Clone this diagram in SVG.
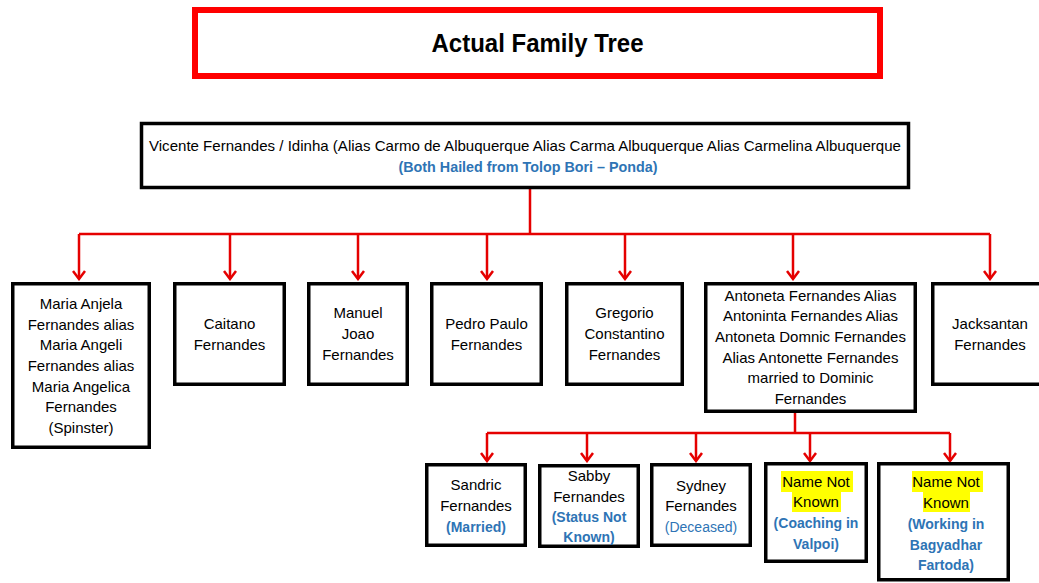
<svg xmlns="http://www.w3.org/2000/svg" width="1039" height="583" viewBox="0 0 1039 583">
<style>
.box{fill:#fff;stroke:#000;stroke-width:3.5}
.t{font-family:"Liberation Sans",Arial,sans-serif;font-size:15px;fill:#000;text-anchor:middle}
.b{font-family:"Liberation Sans",Arial,sans-serif;font-size:14px;font-weight:bold;fill:#2E74B5;text-anchor:middle}
.bl{font-family:"Liberation Sans",Arial,sans-serif;font-size:14px;fill:#2E74B5;text-anchor:middle}
.hl{fill:#FFFF00}
.con{fill:none;stroke:#E50000;stroke-width:2.5}
</style>
<defs>
<marker id="arr" viewBox="-10 -8 12 16" refX="0" refY="0" markerWidth="12" markerHeight="16" markerUnits="userSpaceOnUse" orient="auto">
<path d="M-8,-6 L0,0 L-8,6" fill="none" stroke="#E50000" stroke-width="2.5"/>
</marker>
</defs>
<rect width="1039" height="583" fill="#fff"/>

<g id="title">
<rect x="195" y="10" width="685" height="66" fill="#fff" stroke="#F00" stroke-width="6"/>
<text x="537.5" y="52" font-family="'Liberation Sans',Arial,sans-serif" font-size="25" font-weight="bold" text-anchor="middle" textLength="212" lengthAdjust="spacingAndGlyphs">Actual Family Tree</text>
</g>

<g id="connectors">
<path class="con" d="M530,189 V234 M79,234 H990"/>
<path class="con" d="M79,234 V279" marker-end="url(#arr)"/>
<path class="con" d="M230,234 V279" marker-end="url(#arr)"/>
<path class="con" d="M358,234 V279" marker-end="url(#arr)"/>
<path class="con" d="M487,234 V279" marker-end="url(#arr)"/>
<path class="con" d="M625,234 V279" marker-end="url(#arr)"/>
<path class="con" d="M793,234 V279" marker-end="url(#arr)"/>
<path class="con" d="M990,234 V279" marker-end="url(#arr)"/>
<path class="con" d="M795,413 V433 M487,433 H950"/>
<path class="con" d="M487,433 V461" marker-end="url(#arr)"/>
<path class="con" d="M587,433 V461" marker-end="url(#arr)"/>
<path class="con" d="M696,433 V461" marker-end="url(#arr)"/>
<path class="con" d="M810,433 V461" marker-end="url(#arr)"/>
<path class="con" d="M950,433 V461" marker-end="url(#arr)"/>
</g>

<g id="root">
<rect class="box" x="141.5" y="123.5" width="767" height="64"/>
<text class="t" x="525" y="151" font-size="14.5" textLength="752" lengthAdjust="spacingAndGlyphs">Vicente Fernandes / Idinha (Alias Carmo de Albuquerque Alias Carma Albuquerque Alias Carmelina Albuquerque</text>
<text class="b" x="528" y="172" textLength="259" lengthAdjust="spacingAndGlyphs">(Both Hailed from Tolop Bori – Ponda)</text>
</g>

<g id="maria">
<rect class="box" x="12.75" y="283.75" width="136.5" height="163.5"/>
<text class="t" x="81" y="309">Maria Anjela</text>
<text class="t" x="81" y="330">Fernandes alias</text>
<text class="t" x="81" y="350">Maria Angeli</text>
<text class="t" x="81" y="371">Fernandes alias</text>
<text class="t" x="81" y="392">Maria Angelica</text>
<text class="t" x="81" y="412">Fernandes</text>
<text class="t" x="81" y="433">(Spinster)</text>
</g>

<g id="caitano">
<rect class="box" x="174.75" y="283.75" width="109.5" height="100.5"/>
<text class="t" x="229.5" y="329">Caitano</text>
<text class="t" x="229.5" y="350">Fernandes</text>
</g>

<g id="manuel">
<rect class="box" x="308.75" y="283.75" width="98.5" height="100.5"/>
<text class="t" x="358" y="318">Manuel</text>
<text class="t" x="358" y="339">Joao</text>
<text class="t" x="358" y="360">Fernandes</text>
</g>

<g id="pedro">
<rect class="box" x="431.75" y="283.75" width="109.5" height="100.5"/>
<text class="t" x="486.5" y="329">Pedro Paulo</text>
<text class="t" x="486.5" y="350">Fernandes</text>
</g>

<g id="gregorio">
<rect class="box" x="566.75" y="283.75" width="115.5" height="100.5"/>
<text class="t" x="624.5" y="318">Gregorio</text>
<text class="t" x="624.5" y="339">Constantino</text>
<text class="t" x="624.5" y="360">Fernandes</text>
</g>

<g id="antoneta">
<rect class="box" x="705.75" y="283.75" width="209.5" height="127.5"/>
<text class="t" x="810.5" y="301">Antoneta Fernandes Alias</text>
<text class="t" x="810.5" y="321">Antoninta Fernandes Alias</text>
<text class="t" x="810.5" y="342">Antoneta Domnic Fernandes</text>
<text class="t" x="810.5" y="363">Alias Antonette Fernandes</text>
<text class="t" x="810.5" y="383">married to Dominic</text>
<text class="t" x="810.5" y="404">Fernandes</text>
</g>

<g id="jacksantan">
<rect class="box" x="932.75" y="283.75" width="120" height="100.5"/>
<text class="t" x="990" y="329">Jacksantan</text>
<text class="t" x="990" y="350">Fernandes</text>
</g>

<g id="sandric">
<rect class="box" x="426.75" y="464.75" width="98.5" height="80.5"/>
<text class="t" x="476" y="490">Sandric</text>
<text class="t" x="476" y="511">Fernandes</text>
<text class="b" x="476" y="532">(Married)</text>
</g>

<g id="sabby">
<rect class="box" x="539.75" y="465.75" width="98.5" height="80.5"/>
<text class="t" x="589" y="481">Sabby</text>
<text class="t" x="589" y="502">Fernandes</text>
<text class="b" x="589" y="522">(Status Not</text>
<text class="b" x="589" y="542">Known)</text>
</g>

<g id="sydney">
<rect class="box" x="651.75" y="464.75" width="98.5" height="80.5"/>
<text class="t" x="701" y="491">Sydney</text>
<text class="t" x="701" y="511">Fernandes</text>
<text class="bl" x="701" y="532">(Deceased)</text>
</g>

<g id="unknown1">
<rect class="box" x="765.75" y="463.75" width="100.5" height="97.5"/>
<rect class="hl" x="781" y="471" width="72" height="21"/>
<rect class="hl" x="792" y="492" width="49" height="20"/>
<text class="t" x="816" y="487">Name Not</text>
<text class="t" x="816" y="507">Known</text>
<text class="b" x="816" y="528">(Coaching in</text>
<text class="b" x="816" y="549">Valpoi)</text>
</g>

<g id="unknown2">
<rect class="box" x="878.75" y="463.75" width="129.5" height="116"/>
<rect class="hl" x="912" y="471" width="71" height="21"/>
<rect class="hl" x="923" y="492" width="47" height="20"/>
<text class="t" x="946" y="487">Name Not</text>
<text class="t" x="946" y="508">Known</text>
<text class="b" x="946" y="529">(Working in</text>
<text class="b" x="946" y="550">Bagyadhar</text>
<text class="b" x="946" y="570">Fartoda)</text>
</g>
</svg>
